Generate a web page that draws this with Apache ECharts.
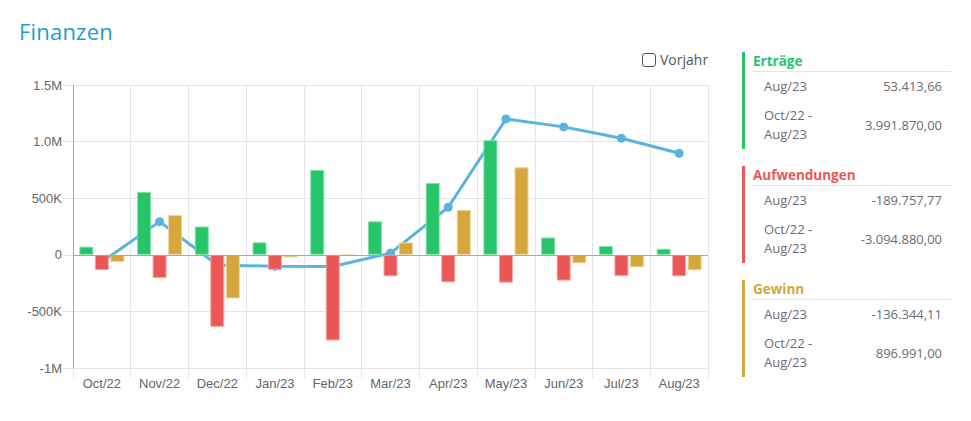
<!DOCTYPE html>
<html>
<head>
<meta charset="utf-8">
<script src="https://cdn.jsdelivr.net/npm/echarts@6/dist/echarts.min.js"></script>
<style>
  html, body { margin: 0; padding: 0; background: #fff; }
  #wrap { position: relative; width: 971px; height: 421px; overflow: hidden; font-family: "Open Sans", sans-serif; }
  #chart { position: absolute; left: 0; top: 0; width: 971px; height: 421px; }
  #title { position: absolute; left: 19px; top: 16px; font-size: 22px; color: #1b9bd7; line-height: 30px; letter-spacing: 0.2px; }
  #vj { position: absolute; left: 642px; top: 52px; height: 15px; display: flex; align-items: center; color: #555; font-size: 14px; }
  #vj input { appearance: none; -webkit-appearance: none; width: 14px; height: 14px; margin: 0 4px 0 0; border: 1.3px solid #555; border-radius: 3px; box-sizing: border-box; background: #fff; }
  .blk { position: absolute; left: 742px; width: 215px; height: 97px; border-left: 3px solid; box-sizing: border-box; }
  .blk .hd { position: absolute; left: 8px; top: 0; line-height: 18px; font-size: 13.5px; font-weight: 700; white-space: nowrap; }
  .blk .sep { position: absolute; left: 8px; top: 19px; width: 198px; height: 0; border-top: 1px solid #e4e4ec; }
  .blk .lb { position: absolute; left: 19px; font-size: 13px; color: #6b6b73; line-height: 19.4px; white-space: nowrap; }
  .blk .val { position: absolute; right: 15px; font-size: 13px; color: #6b6b73; line-height: 19.4px; white-space: nowrap; text-align: right; }
</style>
</head>
<body>
<div id="wrap">
  <div id="chart"></div>
  <div id="title">Finanzen</div>
  <label id="vj"><input type="checkbox">Vorjahr</label>
  <div id="panel"></div>
</div>
<script>
// ---- data ----
var categories = ['Oct/22','Nov/22','Dec/22','Jan/23','Feb/23','Mar/23','Apr/23','May/23','Jun/23','Jul/23','Aug/23'];
var ertraege = [72000, 556000, 250000, 110000, 750000, 296000, 634000, 1013000, 153000, 78000, 53413.66];
var aufwendungen = [-135000, -204000, -636000, -133000, -757000, -190000, -243000, -246000, -228000, -188000, -189757.77];
var gewinn = [-63000, 352000, -386000, -23000, -3000, 110000, 397000, 773000, -75000, -110000, -136344.11];
var gewinnKumuliert = [-63000, 293000, -90000, -102000, -104000, 15000, 420000, 1200000, 1130000, 1030000, 896991];
var yTickValues = [-1000000, -500000, 0, 500000, 1000000, 1500000];
var yTickLabels = ['-1M', '-500K', '0', '500K', '1.0M', '1.5M'];

var panelTitles = ['Erträge', 'Aufwendungen', 'Gewinn'];
var panelColors = ['#27c56a', '#eb5757', '#d3a73b'];
var panelMonthLabel = 'Aug/23';
var panelRangeLabel = ['Oct/22 -', 'Aug/23'];
var panelMonthValues = ['53.413,66', '-189.757,77', '-136.344,11'];
var panelRangeValues = ['3.991.870,00', '-3.094.880,00', '896.991,00'];

// ---- panel ----
var panel = document.getElementById('panel');
var tops = [52, 166, 280];
panelTitles.forEach(function (t, i) {
  var b = document.createElement('div');
  b.className = 'blk';
  b.style.top = tops[i] + 'px';
  b.style.borderLeftColor = panelColors[i];
  b.innerHTML =
    '<div class="hd" style="color:' + panelColors[i] + '">' + t + '</div>' +
    '<div class="sep"></div>' +
    '<div class="lb" style="top:25px">' + panelMonthLabel + '</div>' +
    '<div class="val" style="top:25px">' + panelMonthValues[i] + '</div>' +
    '<div class="lb" style="top:54px">' + panelRangeLabel[0] + '<br>' + panelRangeLabel[1] + '</div>' +
    '<div class="val" style="top:63.5px">' + panelRangeValues[i] + '</div>';
  panel.appendChild(b);
});

// ---- chart ----
var chart = echarts.init(document.getElementById('chart'), null, { renderer: 'svg' });
var grid = '#e5e5e5';
var lbl = { color: '#666', fontFamily: "'Liberation Sans', Arial, sans-serif", fontSize: 13 };
function barSeries(name, data, color, border) {
  return {
    name: name, type: 'bar', data: data, barWidth: 14, barGap: '11%', z: 3,
    itemStyle: { color: color, borderColor: border, borderWidth: 1 },
    emphasis: { disabled: true }
  };
}
var s1 = barSeries('Erträge', ertraege, '#27c56a', '#7fe0a8');
s1.markLine = {
  silent: true, symbol: 'none', animation: false,
  label: { show: false },
  lineStyle: { color: '#a8a8a8', width: 1, type: 'solid' },
  data: [{ yAxis: 0 }]
};
chart.setOption({
  animation: false,
  grid: { left: 73, right: 263, top: 85, bottom: 53, containLabel: false },
  xAxis: {
    type: 'category', data: categories, boundaryGap: true,
    axisLine: { show: true, onZero: false, lineStyle: { color: grid } },
    axisTick: { show: true, length: 10, interval: 0, lineStyle: { color: grid } },
    splitLine: { show: true, interval: 0, lineStyle: { color: grid } },
    axisLabel: Object.assign({ margin: 9, interval: 0 }, lbl)
  },
  yAxis: {
    type: 'value', min: -1000000, max: 1500000, interval: 500000,
    axisLine: { show: true, lineStyle: { color: '#a8a8a8' } },
    axisTick: { show: true, length: 10, lineStyle: { color: grid } },
    splitLine: { show: true, lineStyle: { color: grid } },
    axisLabel: Object.assign({
      margin: 11,
      formatter: function (v) {
        var i = yTickValues.indexOf(v);
        return i >= 0 ? yTickLabels[i] : '';
      }
    }, lbl)
  },
  series: [
    {
      name: 'Gewinn kumuliert', type: 'line', data: gewinnKumuliert, z: 1,
      symbol: 'circle', symbolSize: 9, showSymbol: true,
      lineStyle: { color: '#58b4df', width: 3 },
      itemStyle: { color: '#58b4df' },
      emphasis: { disabled: true }
    },
    s1,
    barSeries('Aufwendungen', aufwendungen, '#eb5757', '#f5a3a3'),
    barSeries('Gewinn', gewinn, '#d3a73b', '#ecd49a')
  ]
});
</script>
</body>
</html>
